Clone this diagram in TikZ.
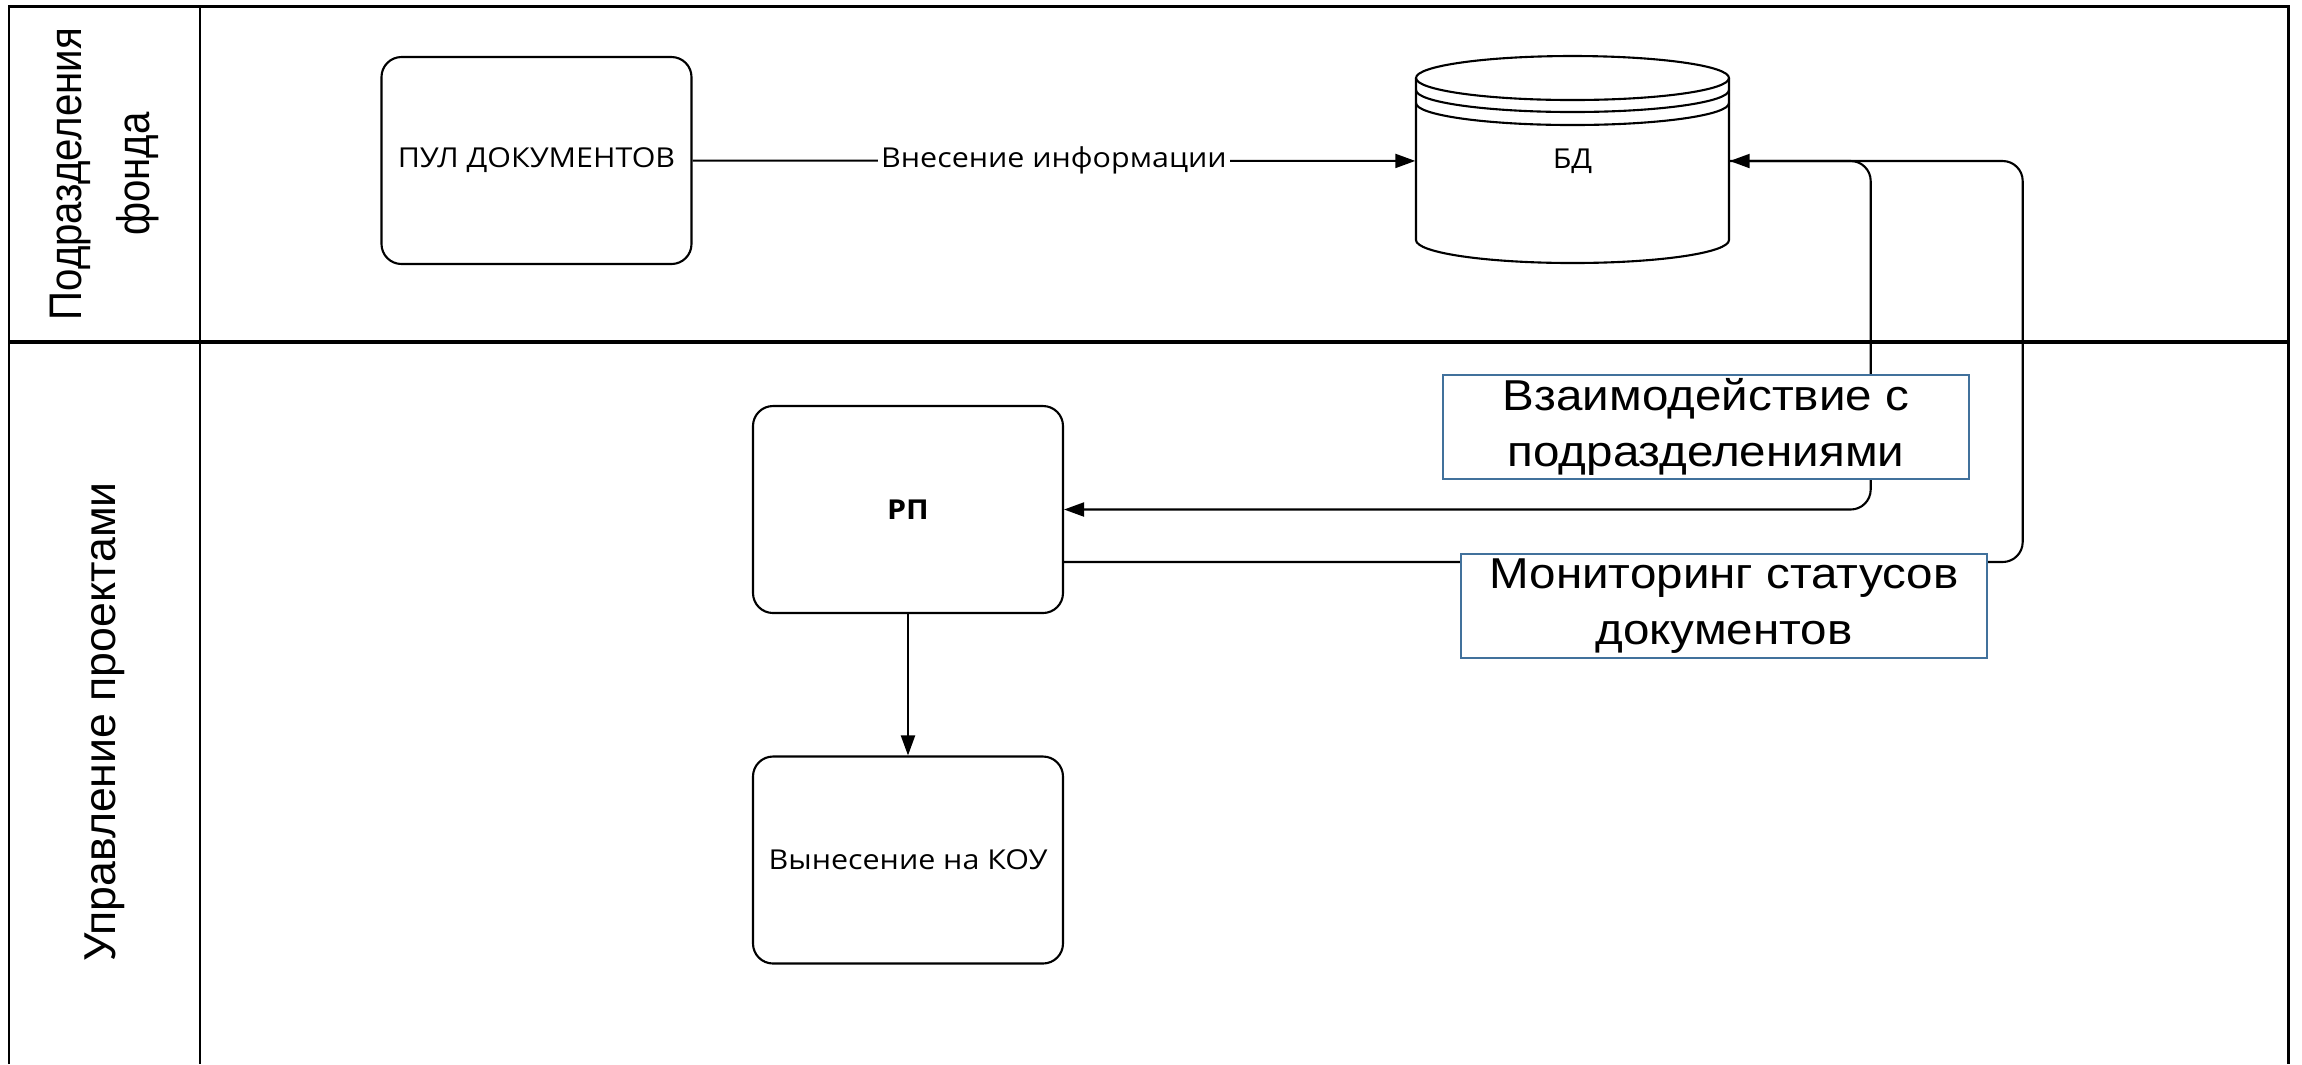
\documentclass[tikz,border=0pt]{standalone}
\usepackage{fontspec}
\setmainfont{Liberation Sans}
\newfontfamily\boxfont{Open Sans}
\usetikzlibrary{arrows.meta}
\definecolor{notecol}{RGB}{65,113,156}
\newcommand\narrow[2][0.8]{\scalebox{#1}[1]{#2}}

\begin{document}
\begin{tikzpicture}[
  box/.style={draw, line width=0.6pt, rounded corners=0.2cm, minimum width=3.1cm, minimum height=2.07cm, inner sep=0pt, font=\boxfont\fontsize{7.8}{9}\selectfont},
  conn/.style={line width=0.6pt, -{Triangle[length=0.2cm,width=0.14cm]}},
  note/.style={draw=notecol, fill=white, line width=0.6pt, minimum width=5.26cm, minimum height=1.04cm, inner sep=0pt, align=center, font=\fontsize{12.3}{15.9}\selectfont},
  lane/.style={rotate=90, align=center, font=\fontsize{13}{19.3}\selectfont}]
\useasboundingbox (0,0) rectangle (23.02,-10.64);
\draw [line width=0.85pt] (0.09,-10.64) -- (0.09,-0.06) -- (22.88,-0.06) -- (22.88,-10.64);
\draw [line width=0.85pt] (2.00,-0.06) -- (2.00,-10.64);
\draw [line width=1.2pt] (0.09,-3.42) -- (22.88,-3.42);
\node [lane] (fund) at (1.045,-1.74) {\narrow[0.88]{Подразделения}\\\narrow[0.88]{фонда}};
\node [lane, font=\fontsize{12.7}{15}\selectfont] (pm) at (1.045,-7.22) {Управление проектами};

\node [box] (pool) at (5.365,-1.605) {\narrow[1.11]{ПУЛ ДОКУМЕНТОВ}};
\node [box] (rp) at (9.08,-5.095) {\narrow[1.11]{\bfseries РП}};
\node [box] (kou) at (9.08,-8.60) {\narrow[1.11]{Вынесение на КОУ}};
\node [minimum width=3.13cm, minimum height=2.07cm, inner sep=0pt, font=\boxfont\fontsize{7.8}{9}\selectfont] (bd) at (15.725,-1.61) {\narrow[1.11]{БД}};
\draw [line width=0.6pt] (15.725,-0.78) ellipse (1.565 and 0.22);
\draw [line width=0.6pt] (14.16,-0.78) -- (14.16,-2.40) arc (180:360:1.565 and 0.23) -- (17.29,-0.78);
\foreach \y in {-0.90,-1.03}
  \draw [line width=0.6pt] (14.16,\y) arc (180:360:1.565 and 0.22);

\draw [conn] (pool) -- node [midway, fill=white, inner sep=1pt, font=\boxfont\fontsize{7.8}{9}\selectfont] (ins) {\narrow[1.11]{Внесение информации}} (bd);
\draw [conn] (rp) -- (kou);
\draw [conn, rounded corners=0.2cm] (bd.east) -- ++(1.41,0) |- (rp.east);
\draw [conn, rounded corners=0.2cm] ([yshift=-0.525cm]rp.east) -| ([xshift=2.93cm]bd.east) -- (bd.east);

\node [note] (inter) at (17.06,-4.27) {\narrow[1.1]{Взаимодействие с}\\\narrow[1.1]{подразделениями}};
\node [note] (mon) at (17.24,-6.06) {\narrow[1.1]{Мониторинг статусов}\\\narrow[1.1]{документов}};
\end{tikzpicture}
\end{document}
